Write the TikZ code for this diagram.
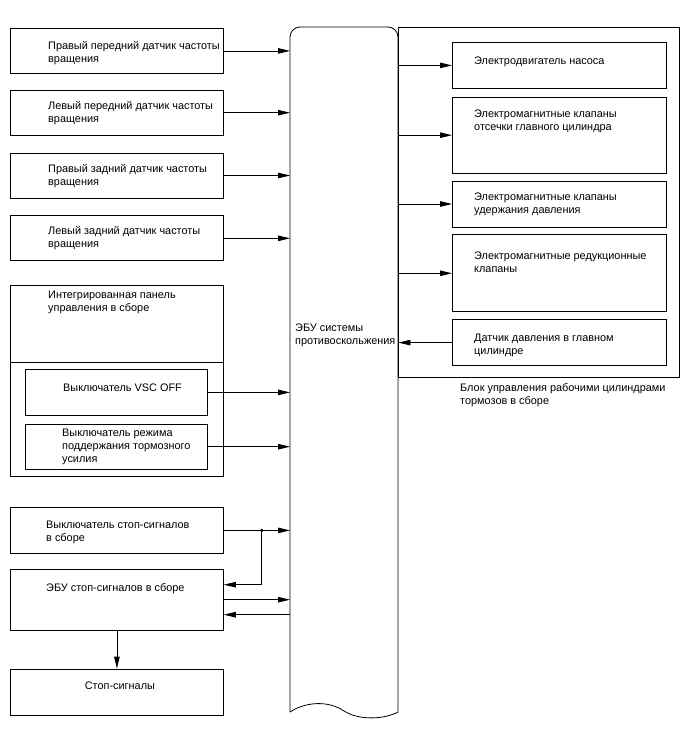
\documentclass[tikz,border=0pt]{standalone}
\usepackage{fontspec}
\setmainfont{Liberation Sans}
\usetikzlibrary{arrows.meta,positioning,calc}

\begin{document}
\begin{tikzpicture}[x=1pt,y=-1pt,font=\fontsize{10.9}{13}\selectfont,
    box/.style={draw,line width=0.8pt,inner sep=0pt,anchor=north west,
      minimum width=213pt,minimum height=45pt},
    rbox/.style={box,minimum width=214pt},
    lbl/.style={inner sep=0pt,anchor=base west,align=left},
    ln/.style={line width=0.8pt},
    arr/.style={-{Triangle[length=12pt,width=5.5pt]},line width=0.8pt}]
  \useasboundingbox (0,0) rectangle (688,755);
  % sensors on the left
  \node[box] (sFR) at (10,28) {};
  \node[box,below=16pt of sFR] (sFL) {};
  \node[box,below=17pt of sFL] (sRR) {};
  \node[box,below=17pt of sRR] (sRL) {};
  \node[lbl] (tFR) at ($(sFR.north west)+(38,34)$) {Правый передний датчик частоты\\вращения};
  \node[lbl] (tFL) at ($(sFL.north west)+(38,33)$) {Левый передний датчик частоты\\вращения};
  \node[lbl] (tRR) at ($(sRR.north west)+(38,33)$) {Правый задний датчик частоты\\вращения};
  \node[lbl] (tRL) at ($(sRL.north west)+(38,32)$) {Левый задний датчик частоты\\вращения};
  % panel
  \node[box,minimum height=191pt] (panel) at (10,285) {};
  \draw[ln] ($(panel.north west)+(0,77)$) -- ($(panel.north east)+(0,77)$);
  \node[lbl] (tpanel) at ($(panel.north west)+(38,26)$) {Интегрированная панель\\управления в сборе};
  \node[box,minimum width=182pt,minimum height=46pt] (vsc) at (25,369) {};
  \node[box,minimum width=182pt,below=8pt of vsc] (boost) {};
  \node[lbl] (tvsc) at ($(vsc.north west)+(38,22)$) {Выключатель VSC OFF};
  \node[lbl] (tboost) at ($(boost.north west)+(37,39)$) {Выключатель режима\\поддержания тормозного\\усилия};
  % stop lamps
  \node[box,minimum height=46pt] (sw) at (10,507) {};
  \node[box,minimum height=61pt,below=15pt of sw] (ebu) {};
  \node[box,minimum height=46pt,below=38pt of ebu] (lamp) {};
  \node[lbl] (tsw) at ($(sw.north west)+(36,34)$) {Выключатель стоп-сигналов\\в сборе};
  \node[lbl] (tebu) at ($(ebu.north west)+(36,23)$) {ЭБУ стоп-сигналов в сборе};
  \node[inner sep=0pt,anchor=base] (tlamp) at ($(lamp.north)+(3,21)$) {Стоп-сигналы};
  % ECU
  \node[inner sep=0pt,anchor=north west,minimum width=108pt,minimum height=685pt] (ecu) at (290,27) {};
  \draw[ln,rounded corners=10pt] (290,712) -- (290,27) -- (398,27) -- (398,712);
  \draw[ln] (290,712) .. controls (305,702) and (328,700) .. (344,711)
    .. controls (360,721) and (385,719) .. (398,712);
  \node[lbl] (tecu) at ($(ecu.north west)+(5,317)$) {ЭБУ системы\\противоскольжения};
  % actuator block
  \node[draw,ln,inner sep=0pt,anchor=north west,minimum width=281pt,minimum height=350pt] (blk) at (398,27) {};
  \node[lbl] (tblk) at ($(blk.south west)+(62,27)$) {Блок управления рабочими цилиндрами\\тормозов в сборе};
  \node[rbox,minimum height=46pt] (r1) at (452,42) {};
  \node[rbox,minimum height=76pt,below=8pt of r1] (r2) {};
  \node[rbox,minimum height=46pt,below=7pt of r2] (r3) {};
  \node[rbox,minimum height=77pt,below=7pt of r3] (r4) {};
  \node[rbox,minimum height=46pt,below=7pt of r4] (r5) {};
  \node[lbl] (tr1) at ($(r1.north west)+(22,22)$) {Электродвигатель насоса};
  \node[lbl] (tr2) at ($(r2.north west)+(22,34)$) {Электромагнитные клапаны\\отсечки главного цилиндра};
  \node[lbl] (tr3) at ($(r3.north west)+(22,33)$) {Электромагнитные клапаны\\удержания давления};
  \node[lbl] (tr4) at ($(r4.north west)+(22,38)$) {Электромагнитные редукционные\\клапаны};
  \node[lbl] (tr5) at ($(r5.north west)+(22,35)$) {Датчик давления в главном\\цилиндре};
  % connections
  \foreach \n in {sFR,sFL,sRR,sRL,vsc,boost,sw,ebu}
    \draw[arr] (\n.east) -- (\n.east -| ecu.west);
  \foreach \n in {r1,r2,r3,r4}
    \draw[arr] (\n.west -| ecu.east) -- (\n.west);
  \draw[arr] (r5.west) -- (r5.west -| ecu.east);
  \coordinate (jn) at ($(sw.east)+(38,0)$);
  \coordinate (eUp) at ($(ebu.east)+(0,-15)$);
  \coordinate (eDn) at ($(ebu.east)+(0,15)$);
  \fill (jn) circle (1.8pt);
  \draw[arr] (jn) |- (eUp);
  \draw[arr] (eDn -| ecu.west) -- (eDn);
  \draw[arr] (ebu.south) -- (lamp.north);
\end{tikzpicture}
\end{document}
